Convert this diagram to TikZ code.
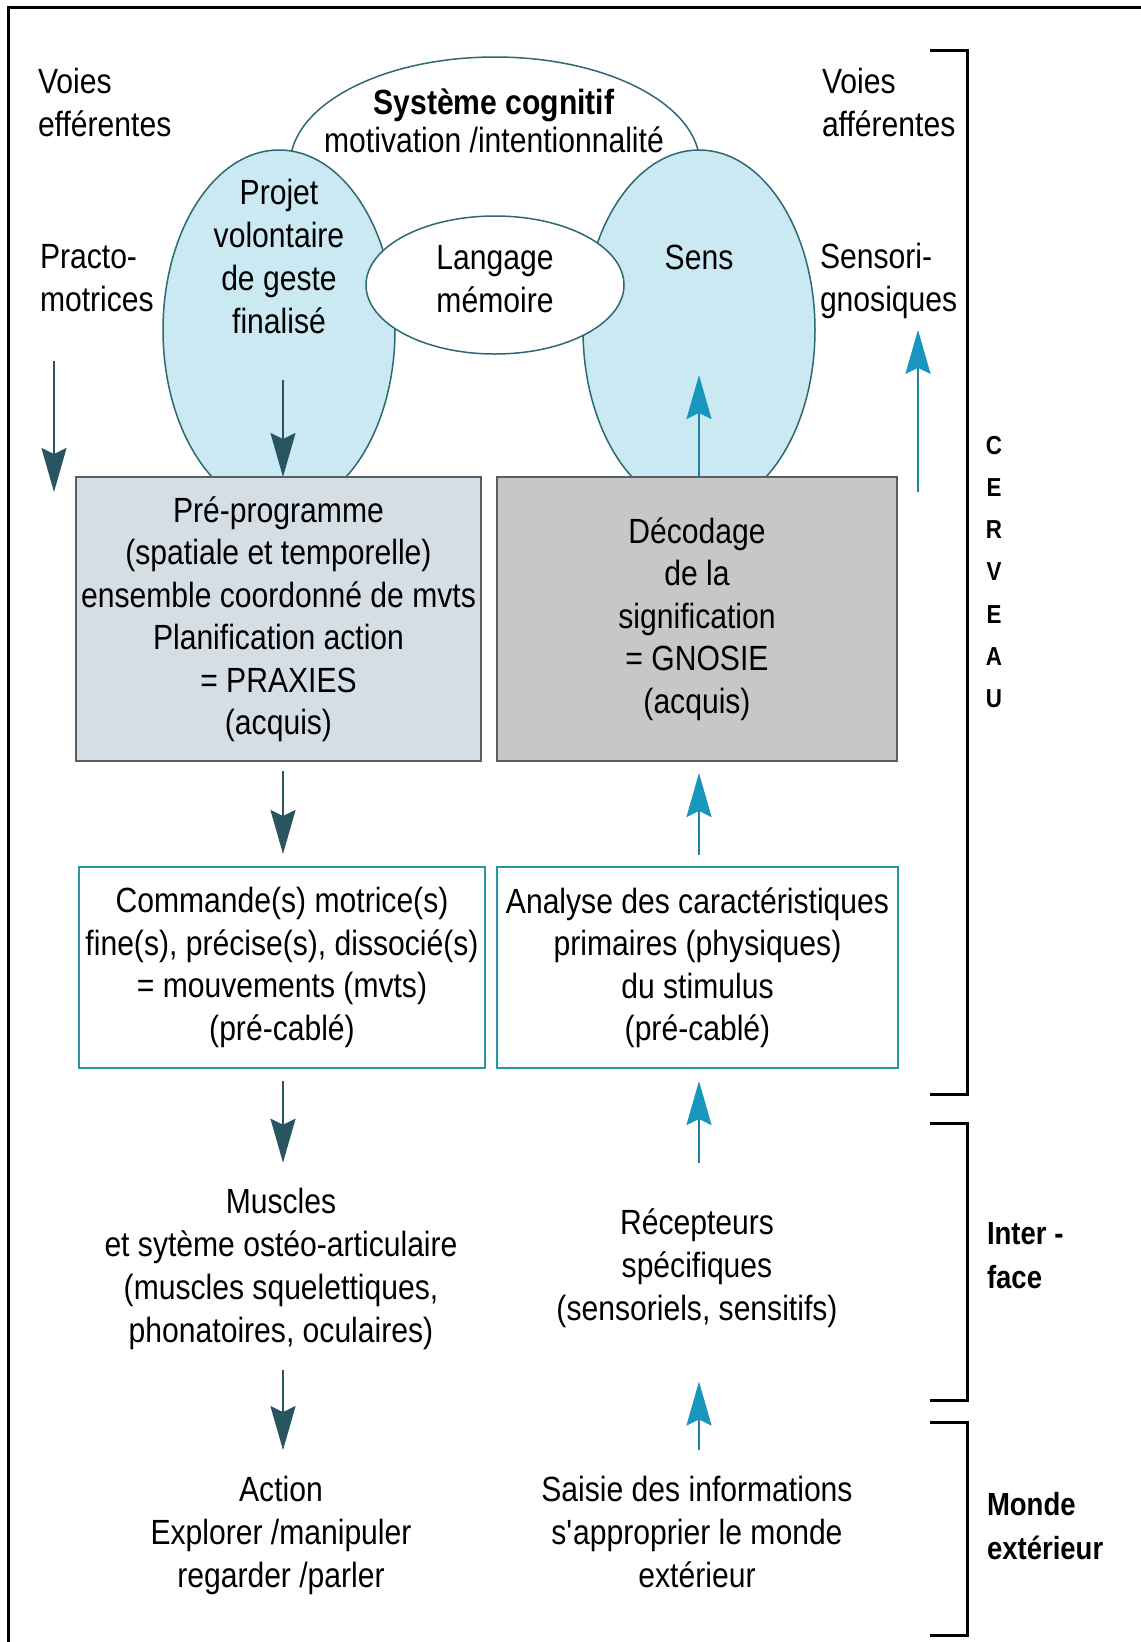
\documentclass[tikz,border=0pt]{standalone}
\usepackage{fontspec}
\setmainfont{Liberation Sans}[FakeStretch=0.86]
\usetikzlibrary{shapes.geometric,arrows.meta}
\definecolor{ellfill}{RGB}{202,233,243}
\definecolor{ellline}{RGB}{45,105,115}
\definecolor{prefill}{RGB}{213,222,228}
\definecolor{decfill}{RGB}{199,199,199}
\definecolor{grayline}{RGB}{85,95,100}
\definecolor{lowline}{RGB}{40,150,165}
\definecolor{dncol}{RGB}{40,85,95}
\definecolor{upcol}{RGB}{25,150,190}
\tikzset{
  txt/.style={inner sep=0pt, outer sep=0pt, align=center, font=\fontsize{35}{43}\selectfont},
  ltxt/.style={txt, align=left, anchor=west},
  btxt/.style={inner sep=0pt, outer sep=0pt, align=left, anchor=west, font=\bfseries\fontsize{32}{44}\selectfont},
  blob/.style={ellipse, draw=ellline, line width=1.5pt, fill=ellfill, inner sep=0pt, outer sep=0pt},
  wblob/.style={ellipse, draw=ellline, line width=1.5pt, fill=white, inner sep=0pt, outer sep=0pt},
  graybox/.style={rectangle, draw=grayline, line width=2pt, inner sep=0pt, outer sep=0pt, align=center, font=\fontsize{35}{42.5}\selectfont},
  lowbox/.style={rectangle, draw=lowline, line width=2pt, fill=white, inner sep=0pt, outer sep=0pt, align=center, font=\fontsize{35}{42.5}\selectfont},
  dn/.style={draw=dncol, line width=2pt, -{Stealth[length=44pt,width=25pt,inset=6pt,color=dncol]}},
  up/.style={draw=upcol!70!dncol, line width=2pt, -{Stealth[length=44pt,width=25pt,inset=6pt,color=upcol]}},
  brk/.style={draw=black, line width=3pt},
}
\begin{document}
\begin{tikzpicture}[x=1pt,y=-1pt]
\useasboundingbox (0,0) rectangle (1141,1642);
\fill[white] (0,0) rectangle (1141,1642);
% outer frame
\draw[line width=3pt] (8,1650) -- (8,7) -- (1150,7);

% cognitive dome
\begin{scope}
  \clip (0,0) rectangle (1141,165);
  \node[wblob, minimum width=410, minimum height=216] (cog) at (495,165) {};
\end{scope}
% blue ellipses
\node[blob, minimum width=232, minimum height=360] (projet) at (279,330) {};
\node[blob, minimum width=232, minimum height=360] (sensell) at (699,330) {};
% middle ellipse
\node[wblob, minimum width=258, minimum height=138] (lang) at (495,285) {};

% texts top
\node[txt] (cogtxt) at (494,121) {\textbf{Système cognitif}\\[-5pt]motivation /intentionnalité};
\node[ltxt] (veff) at (38,102) {Voies\\efférentes};
\node[ltxt] (vaff) at (822,102) {Voies\\afférentes};
\node[ltxt] (practo) at (40,278) {Practo-\\motrices};
\node[ltxt] (sensori) at (820,281) {Sensori-\\gnosiques};
\node[txt] (projtxt) at (279,256) {Projet\\volontaire\\de geste\\finalisé};
\node[txt] (langtxt) at (495,279) {Langage\\mémoire};
\node[txt] (senstxt) at (699,257) {Sens};

% boxes
\node[graybox, fill=prefill, minimum width=405, minimum height=284] (pre) at (278.5,619)
  {Pré-programme\\(spatiale et temporelle)\\ensemble coordonné de mvts\\Planification action\\= PRAXIES\\(acquis)};
\node[graybox, fill=decfill, minimum width=400, minimum height=284] (dec) at (697,619)
  {Décodage\\de la\\signification\\= GNOSIE\\(acquis)};
\node[lowbox, minimum width=406, minimum height=201] (cmd) at (282,967.5)
  {Commande(s) motrice(s)\\fine(s), précise(s), dissocié(s)\\= mouvements (mvts)\\(pré-cablé)};
\node[lowbox, minimum width=401, minimum height=201] (ana) at (697.5,967.5)
  {Analyse des caractéristiques\\primaires (physiques)\\du stimulus\\(pré-cablé)};

% lower texts
\node[txt] (musc) at (281,1268.5) {Muscles\\et sytème ostéo-articulaire\\(muscles squelettiques,\\phonatoires, oculaires)};
\node[txt] (rec) at (697,1268) {Récepteurs\\spécifiques\\(sensoriels, sensitifs)};
\node[txt] (act) at (281,1535.4) {Action\\Explorer /manipuler\\regarder /parler};
\node[txt] (sai) at (697,1531.7) {Saisie des informations\\s\textquotesingle approprier le monde\\extérieur};

% right labels
\node[inner sep=0pt, outer sep=0pt, align=center, font=\bfseries\fontsize{26}{42.3}\selectfont] (cerv) at (994,572) {C\\E\\R\\V\\E\\A\\U};
\node[btxt] (inter) at (987,1256) {Inter -\\face};
\node[btxt] (monde) at (987,1526) {Monde\\extérieur};

% brackets
\draw[brk] (930,50) -- (967,50) -- (967,1094) -- (930,1094);
\draw[brk] (930,1123) -- (967,1123) -- (967,1400) -- (930,1400);
\draw[brk] (930,1422) -- (967,1422) -- (967,1635) -- (930,1635);

% column coordinates
\coordinate (colL) at (283,0);
\coordinate (colR) at (699,0);
\coordinate (pstart) at (283,380);
\coordinate (stip) at (699,375);
\coordinate (effx) at (54,0);
\coordinate (effend) at (54,492);
\coordinate (affstart) at (918,492);

% left (efferent) arrows
\draw[dn] (pstart) -- (pre.north -| colL);
\draw[dn, shorten <=10pt, shorten >=13pt] (pre.south -| colL) -- (cmd.north -| colL);
\draw[dn, shorten <=13pt, shorten >=25pt] (cmd.south -| colL) -- (musc.north -| colL);
\draw[dn, shorten <=21pt, shorten >=26pt] (musc.south -| colL) -- (act.north -| colL);
\draw[dn, shorten <=49pt] (practo.south -| effx) -- (effend);

% right (afferent) arrows
\draw[up] (dec.north -| colR) -- (stip);
\draw[up, shorten <=12pt, shorten >=12pt] (ana.north -| colR) -- (dec.south -| colR);
\draw[up, shorten <=46pt, shorten >=13pt] (rec.north -| colR) -- (ana.south -| colR);
\draw[up, shorten <=26pt, shorten >=54pt] (sai.north -| colR) -- (rec.south -| colR);
\draw[up, shorten >=11pt] (affstart) -- (sensori.south -| affstart);
\end{tikzpicture}
\end{document}
